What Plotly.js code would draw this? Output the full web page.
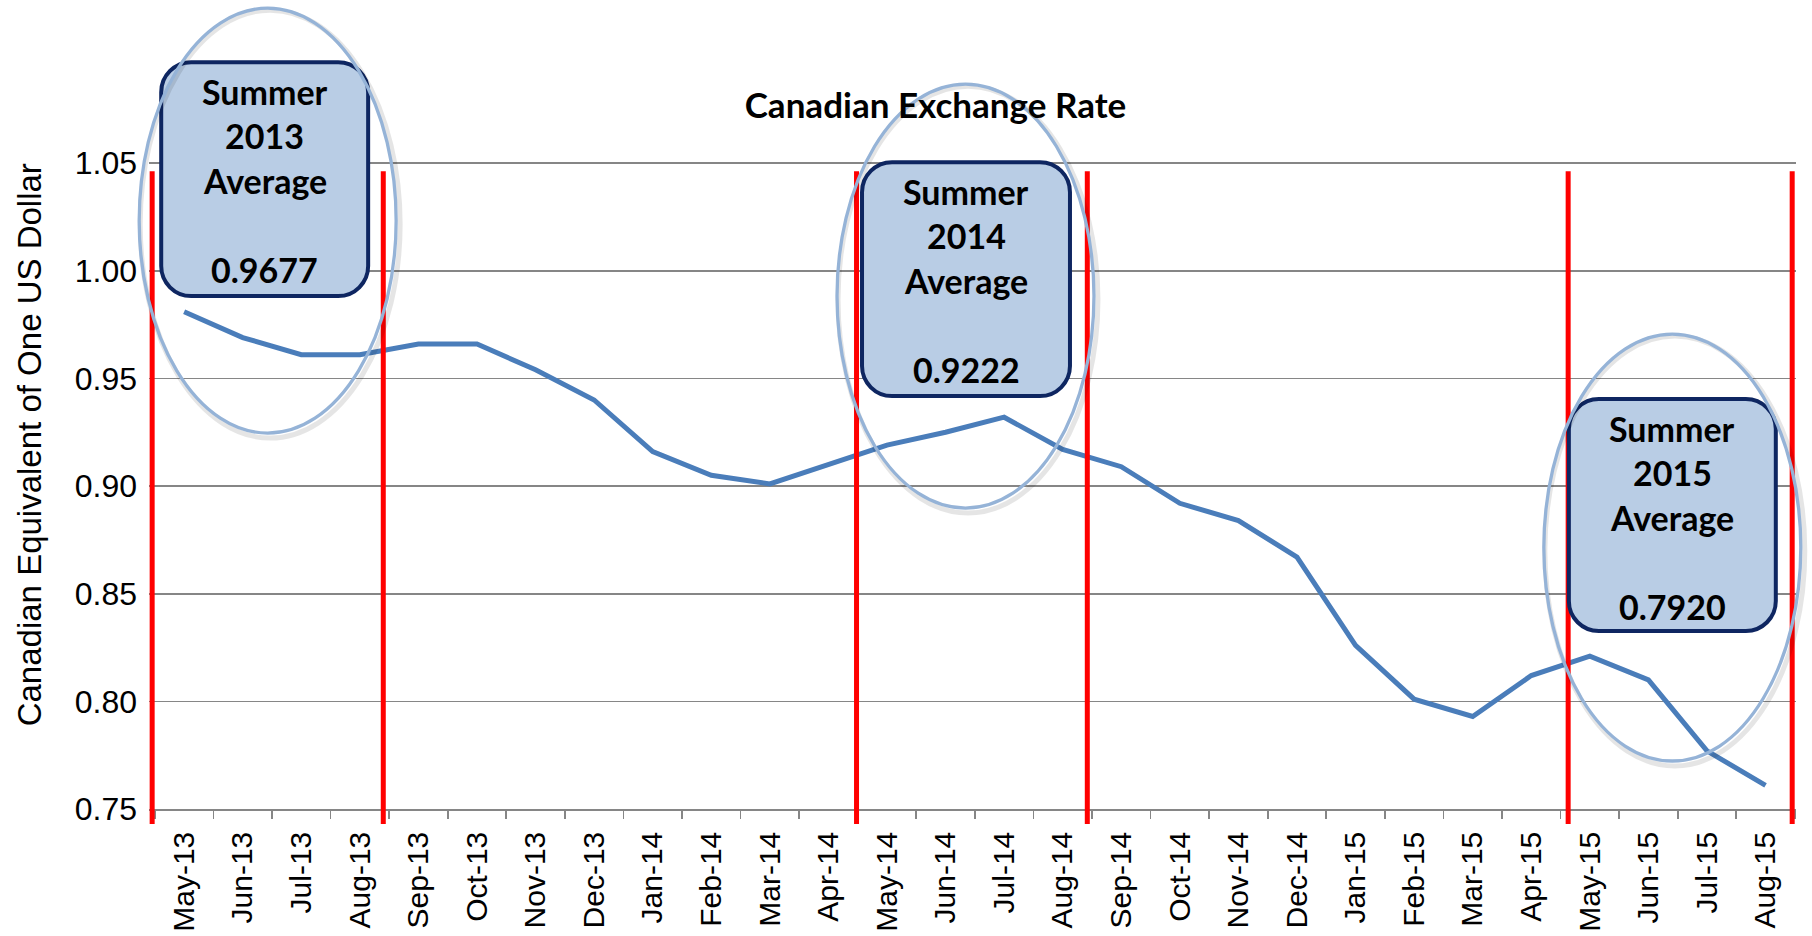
<!DOCTYPE html>
<html>
<head>
<meta charset="utf-8">
<script src="https://cdn.plot.ly/plotly-3.0.1.min.js"></script>
<style>html,body{margin:0;padding:0;background:#fff;}#chart{width:1812px;height:936px;}</style>
</head>
<body>
<div id="chart"></div>
<script>
// ---- data ----
const months = ['May-13','Jun-13','Jul-13','Aug-13','Sep-13','Oct-13','Nov-13','Dec-13',
  'Jan-14','Feb-14','Mar-14','Apr-14','May-14','Jun-14','Jul-14','Aug-14','Sep-14','Oct-14','Nov-14','Dec-14',
  'Jan-15','Feb-15','Mar-15','Apr-15','May-15','Jun-15','Jul-15','Aug-15'];
const rates = [0.981,0.969,0.961,0.961,0.966,0.966,0.954,0.940,
  0.916,0.905,0.901,0.910,0.919,0.925,0.932,0.917,0.909,0.892,0.884,0.867,
  0.826,0.801,0.793,0.812,0.821,0.810,0.777,0.761];
const yTicks = [0.75,0.80,0.85,0.90,0.95,1.00,1.05];
const summerEdges = [-0.546, 3.40, 11.48, 15.42, 23.63, 27.455];   // red markers, category units
const summerYears = ['2013','2014','2015'];
const summerAverages = [0.9677, 0.9222, 0.7920];
const yTitle = 'Canadian Equivalent of One US Dollar';
const chartTitle = 'Canadian Exchange Rate';

// ---- layout geometry (pixels) ----
const FW = 1812, FH = 936;
const L = 148.8, R = 15.8, B = 127;
const yMax = 1.051, yMin = 0.75;
const axisY = FH - B;                 // pixel of yMin
const pxPerUnit = 2153.3;
const T = axisY - (yMax - yMin) * pxPerUnit;
const W = FW - L - R, H = FH - T - B;
const px = X => (X - L) / W;
const py = Y => (axisY - Y) / H;

// callout geometry (pixels)
const boxes = [
  {x0:161, y0:62, x1:368, y1:296},
  {x0:862, y0:162, x1:1070, y1:396},
  {x0:1569, y0:399, x1:1776, y1:631}
];
const ovals = [
  {x0:139, y0:8, x1:396, y1:433},
  {x0:837, y0:84, x1:1094, y1:508},
  {x0:1544, y0:334, x1:1801, y1:761}
];
const lineOffsets = [31, 75, 120, 209];

function roundRectPath(b, r) {
  const k = 0.5523 * r;
  const P = (X, Y) => px(X).toFixed(5) + ',' + py(Y).toFixed(5);
  const {x0, y0, x1, y1} = b;
  return 'M' + P(x0 + r, y0) +
    ' L' + P(x1 - r, y0) +
    ' C' + P(x1 - r + k, y0) + ' ' + P(x1, y0 + r - k) + ' ' + P(x1, y0 + r) +
    ' L' + P(x1, y1 - r) +
    ' C' + P(x1, y1 - r + k) + ' ' + P(x1 - r + k, y1) + ' ' + P(x1 - r, y1) +
    ' L' + P(x0 + r, y1) +
    ' C' + P(x0 + r - k, y1) + ' ' + P(x0, y1 - r + k) + ' ' + P(x0, y1 - r) +
    ' L' + P(x0, y0 + r) +
    ' C' + P(x0, y0 + r - k) + ' ' + P(x0 + r - k, y0) + ' ' + P(x0 + r, y0) + ' Z';
}

const shapes = [];
summerEdges.forEach(xv => shapes.push({
  type: 'line', layer: 'above', xref: 'x', yref: 'paper',
  x0: xv, x1: xv, y0: py(824), y1: py(171),
  line: {color: '#FF0000', width: 5}
}));
boxes.forEach(b => shapes.push({
  type: 'path', layer: 'above', xref: 'paper', yref: 'paper',
  path: roundRectPath(b, 30),
  fillcolor: '#B9CDE5', line: {color: '#0E2661', width: 4}
}));
ovals.forEach(o => {
  shapes.push({
    type: 'circle', layer: 'above', xref: 'paper', yref: 'paper',
    x0: px(o.x0 + 1), x1: px(o.x1 + 4), y0: py(o.y1 + 5), y1: py(o.y0 + 2),
    line: {color: 'rgba(0,0,0,0.10)', width: 5}
  });
  shapes.push({
    type: 'circle', layer: 'above', xref: 'paper', yref: 'paper',
    x0: px(o.x0), x1: px(o.x1), y0: py(o.y1), y1: py(o.y0),
    line: {color: '#95B3D7', width: 3.3}
  });
});

const annotations = [];
boxes.forEach((b, i) => {
  const texts = ['Summer', summerYears[i], 'Average', summerAverages[i].toFixed(4)];
  const cx = (b.x0 + b.x1) / 2;
  texts.forEach((t, j) => annotations.push({
    xref: 'paper', yref: 'paper', x: px(cx), y: py(b.y0 - 2 + lineOffsets[j]),
    xanchor: 'center', yanchor: 'middle', showarrow: false, text: t,
    font: {family: 'Lato, "Open Sans", sans-serif', size: 34, color: '#000000', weight: 700}
  }));
});
annotations.push({
  xref: 'paper', yref: 'paper', x: px(29), y: py(445),
  xanchor: 'center', yanchor: 'middle', showarrow: false, textangle: -90,
  text: yTitle,
  font: {family: '"Liberation Sans", Arial, sans-serif', size: 33, color: '#000000'}
});

const data = [{
  type: 'scatter', mode: 'lines', x: months, y: rates,
  line: {color: '#4A7DBA', width: 5}, hoverinfo: 'x+y', showlegend: false
}];

const layout = {
  width: FW, height: FH,
  margin: {l: L, r: R, t: T, b: B, pad: 0, autoexpand: false},
  paper_bgcolor: '#FFFFFF', plot_bgcolor: '#FFFFFF',
  showlegend: false,
  title: {
    text: chartTitle,
    font: {family: 'Lato, "Open Sans", sans-serif', size: 35, color: '#000000', weight: 700},
    xref: 'container', x: 935.5 / FW, xanchor: 'center',
    yref: 'container', y: 1 - 106 / FH, yanchor: 'middle'
  },
  xaxis: {
    type: 'category', categoryorder: 'array', categoryarray: months,
    range: [-0.6, 27.52], fixedrange: true,
    showgrid: false, zeroline: false,
    showline: true, linecolor: '#868686', linewidth: 1.7,
    ticks: 'outside', tickson: 'boundaries', ticklen: 8, tickwidth: 1.7, tickcolor: '#868686',
    tickangle: -90, ticklabelstandoff: 9,
    tickfont: {family: '"Liberation Sans", Arial, sans-serif', size: 30, color: '#000000'},
    automargin: false
  },
  yaxis: {
    range: [yMin, yMax], fixedrange: true,
    tickmode: 'array', tickvals: yTicks, ticktext: yTicks.map(v => v.toFixed(2)),
    showgrid: true, gridcolor: '#868686', gridwidth: 1.7,
    zeroline: false, showline: false, ticks: '',
    ticklabelstandoff: 11,
    tickfont: {family: '"Liberation Sans", Arial, sans-serif', size: 32, color: '#000000'},
    automargin: false
  },
  shapes: shapes,
  annotations: annotations
};

Plotly.newPlot('chart', data, layout, {displayModeBar: false, staticPlot: true});
</script>
</body>
</html>
